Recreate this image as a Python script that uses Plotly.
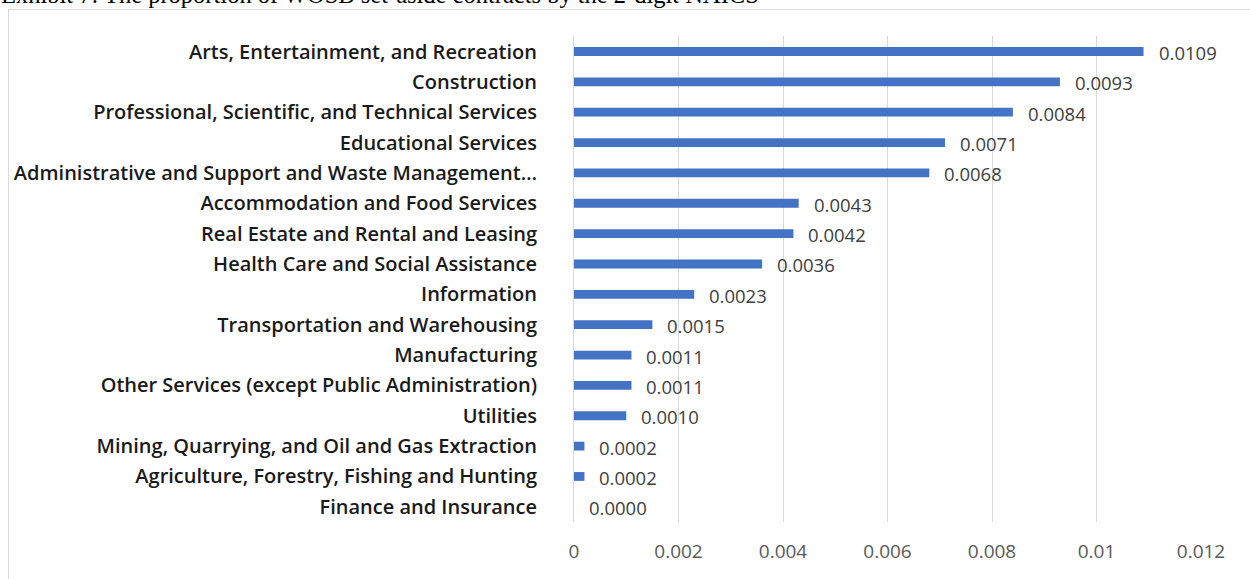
import plotly.graph_objects as go

# 2-digit NAICS sectors, ordered from largest to smallest share
sectors = [
    "Arts, Entertainment, and Recreation",
    "Construction",
    "Professional, Scientific, and Technical Services",
    "Educational Services",
    "Administrative and Support and Waste Management…",
    "Accommodation and Food Services",
    "Real Estate and Rental and Leasing",
    "Health Care and Social Assistance",
    "Information",
    "Transportation and Warehousing",
    "Manufacturing",
    "Other Services (except Public Administration)",
    "Utilities",
    "Mining, Quarrying, and Oil and Gas Extraction",
    "Agriculture, Forestry, Fishing and Hunting",
    "Finance and Insurance",
]
proportions = [0.0109, 0.0093, 0.0084, 0.0071, 0.0068, 0.0043, 0.0042, 0.0036,
               0.0023, 0.0015, 0.0011, 0.0011, 0.0010, 0.0002, 0.0002, 0.0000]

x_tickvals = [0, 0.002, 0.004, 0.006, 0.008, 0.01, 0.012]
x_ticktext = ["0", "0.002", "0.004", "0.006", "0.008", "0.01", "0.012"]

title_text = "Exhibit 7: The proportion of WOSB set-aside contracts by the 2-digit NAICS"

W, H = 1250, 579
L, R, T, B = 574, 49, 36, 57
plot_w = W - L - R
plot_h = H - T - B

def px_to_paper_x(px):
    return (px - L) / plot_w

def px_to_paper_y(py):
    return 1 + (T - py) / plot_h

fig = go.Figure()
fig.add_trace(go.Bar(
    x=proportions,
    y=sectors,
    orientation="h",
    marker=dict(color="#4472C4", line=dict(width=0)),
    width=0.29,
    hoverinfo="x+y",
))

# value labels to the right of each bar
for s, v in zip(sectors, proportions):
    fig.add_annotation(
        x=v, y=s, xref="x", yref="y",
        text=f"{v:.4f}",
        showarrow=False, xanchor="left", yanchor="middle",
        xshift=13, yshift=-1,
        font=dict(family="Open Sans", size=18.5, color="#404040"),
    )

# exhibit caption above the chart frame
fig.add_annotation(
    x=px_to_paper_x(-1), y=px_to_paper_y(10), xref="paper", yref="paper",
    text=title_text, showarrow=False, xanchor="left", yanchor="bottom",
    font=dict(family="Liberation Serif", size=24.5, color="#000000"),
)

# chart frame
frame_color = "#d9d9d9"
fig.add_shape(type="line", xref="paper", yref="paper",
              x0=px_to_paper_x(8), x1=px_to_paper_x(1260),
              y0=px_to_paper_y(9.5), y1=px_to_paper_y(9.5),
              line=dict(color=frame_color, width=1))
fig.add_shape(type="line", xref="paper", yref="paper",
              x0=px_to_paper_x(8.5), x1=px_to_paper_x(8.5),
              y0=px_to_paper_y(9.5), y1=px_to_paper_y(590),
              line=dict(color=frame_color, width=1))

fig.update_layout(
    width=W, height=H,
    margin=dict(l=L, r=R, t=T, b=B, pad=0),
    paper_bgcolor="white", plot_bgcolor="white",
    showlegend=False,
    bargap=0.7,
    xaxis=dict(
        range=[0, 0.012],
        tickvals=x_tickvals, ticktext=x_ticktext,
        showgrid=True, gridcolor="#d9d9d9", gridwidth=1,
        zeroline=False, showline=False, ticks="",
        ticklabelstandoff=16,
        tickfont=dict(family="Open Sans", size=19, color="#595959"),
    ),
    yaxis=dict(
        categoryorder="array", categoryarray=sectors,
        autorange="reversed",
        showgrid=False, zeroline=False,
        showline=True, linecolor="#d9d9d9", linewidth=1,
        ticks="", ticklabelstandoff=32,
        tickfont=dict(family="Open Sans", size=20, color="#1a1a1a", weight=600),
    ),
)

fig.write_html("out.html")
